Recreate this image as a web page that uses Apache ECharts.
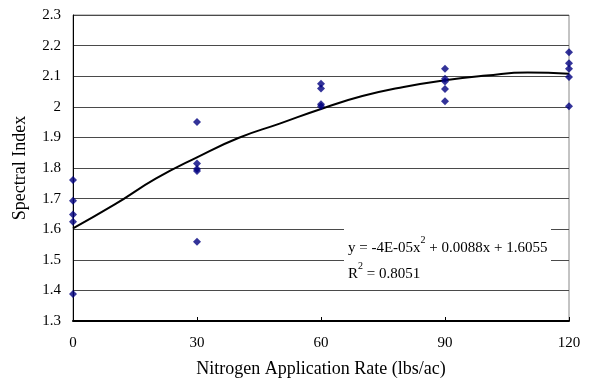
<!DOCTYPE html>
<html>
<head>
<meta charset="utf-8">
<script src="https://cdn.jsdelivr.net/npm/echarts@6/dist/echarts.min.js"></script>
<style>
  html, body { margin: 0; padding: 0; background: #fff; }
  #main { width: 594px; height: 385px; }
</style>
</head>
<body>
<div id="main"></div>
<script>
// measured points (N rate, spectral index)
var rate0 = [1.761, 1.693, 1.648, 1.624, 1.388];
var rate30 = [1.95, 1.815, 1.797, 1.79, 1.559];
var rate60 = [2.075, 2.06, 2.008, 2.002];
var rate90 = [2.124, 2.092, 2.083, 2.058, 2.018];
var rate120 = [2.178, 2.142, 2.124, 2.097, 2.002];
var rates = [0, 30, 60, 90, 120];

// trendline
var trendX = [0, 10, 20, 30, 40, 50, 60, 70, 80, 90, 100, 110, 120];
var trendY = [1.603, 1.68, 1.765, 1.835, 1.898, 1.945, 1.993, 2.035, 2.065, 2.087, 2.102, 2.112, 2.108];

var yTicks = [1.3, 2.3, 0.1]; // min, max, step
var xTicks = [0, 120, 30];

var points = [];
[rate0, rate30, rate60, rate90, rate120].forEach(function (vals, i) {
  vals.forEach(function (v) { points.push([rates[i], v]); });
});
var trend = trendX.map(function (x, i) { return [x, trendY[i]]; });

var font = 'Liberation Serif';
var chart = echarts.init(document.getElementById('main'));
chart.setOption({
  animation: false,
  textStyle: { fontFamily: font },
  grid: { left: 73, right: 25, top: 15, bottom: 64, show: true, borderColor: '#888', borderWidth: 1 },
  xAxis: {
    type: 'value',
    min: xTicks[0], max: xTicks[1], interval: xTicks[2],
    name: 'Nitrogen Application Rate (lbs/ac)',
    nameLocation: 'middle',
    nameGap: 39,
    nameTextStyle: { fontFamily: font, fontSize: 18, color: '#000' },
    axisLine: { lineStyle: { color: '#000', width: 2 } },
    axisTick: { show: true, inside: true, length: 4, lineStyle: { color: '#000' } },
    axisLabel: { fontFamily: font, fontSize: 15, color: '#000', margin: 15 },
    splitLine: { show: false }
  },
  yAxis: {
    type: 'value',
    min: yTicks[0], max: yTicks[1], interval: yTicks[2],
    name: 'Spectral Index',
    nameLocation: 'middle',
    nameGap: 44,
    nameTextStyle: { fontFamily: font, fontSize: 18, color: '#000' },
    axisLine: { show: true, lineStyle: { color: '#000', width: 1 } },
    axisTick: { show: false },
    axisLabel: {
      fontFamily: font, fontSize: 15, color: '#000', margin: 12,
      formatter: function (v) { return String(Math.round(v * 10) / 10); }
    },
    splitLine: { show: true, lineStyle: { color: '#4a4a4a', width: 1 } }
  },
  graphic: [
    {
      type: 'rect',
      shape: { x: 344, y: 225, width: 207, height: 62 },
      style: { fill: '#fff' },
      z: 10
    },
    {
      type: 'text',
      x: 348, y: 235,
      z: 11,
      style: {
        text: 'y = -4E-05x{sup|2} + 0.0088x + 1.6055\nR{sup|2} = 0.8051',
        fontFamily: font, fontSize: 15, fill: '#000', lineHeight: 26,
        rich: { sup: { fontSize: 10, verticalAlign: 'top', fontFamily: font, padding: [0, 0, 7, 0] } }
      }
    }
  ],
  series: [
    {
      type: 'line',
      data: trend,
      smooth: true,
      showSymbol: false,
      symbol: 'none',
      lineStyle: { color: '#000', width: 2 },
      z: 3
    },
    {
      type: 'scatter',
      data: points,
      symbol: 'diamond',
      symbolSize: 8,
      itemStyle: { color: '#000080' },
      z: 4
    }
  ]
});
</script>
</body>
</html>
